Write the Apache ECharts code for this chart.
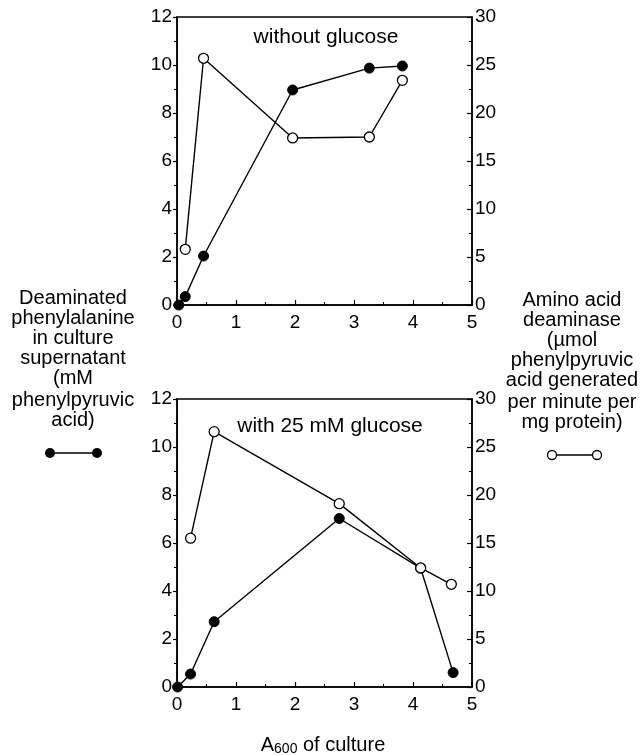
<!DOCTYPE html>
<html>
<head>
<meta charset="utf-8">
<script src="https://cdn.jsdelivr.net/npm/echarts@6/dist/echarts.min.js"></script>
<style>
html,body{margin:0;padding:0;background:#fff;}
#c{width:642px;height:755px;}
</style>
</head>
<body>
<div id="c"></div>
<script>
// ---- data ----
const xTicks = [0, 1, 2, 3, 4, 5];
const leftTicks = [0, 2, 4, 6, 8, 10, 12];
const rightTicks = [0, 5, 10, 15, 20, 25, 30];

// without glucose
const topFilledX = [0.03, 0.14, 0.45, 1.96, 3.26, 3.82];
const topFilledY = [0, 0.35, 2.04, 8.96, 9.87, 9.96];       // mM (left axis)
const topOpenX = [0.14, 0.45, 1.96, 3.26, 3.82];
const topOpenY = [5.8, 25.7, 17.4, 17.5, 23.4];              // µmol/min/mg (right axis)

// with 25 mM glucose
const botFilledX = [0.01, 0.23, 0.63, 2.75, 4.13, 4.68];
const botFilledY = [0, 0.54, 2.72, 7.02, 4.95, 0.6];
const botOpenX = [0.23, 0.63, 2.75, 4.13, 4.65];
const botOpenY = [15.5, 26.6, 19.1, 12.4, 10.7];

const titles = ['without glucose', 'with 25 mM glucose'];
const leftLabel = ['Deaminated', 'phenylalanine', 'in culture', 'supernatant', '(mM', 'phenylpyruvic', 'acid)'];
const rightLabel = ['Amino acid', 'deaminase', '(\u00b5mol', 'phenylpyruvic', 'acid generated', 'per minute per', 'mg protein)'];

const FONT = '"Liberation Sans", Arial, Helvetica, sans-serif';
const pairs = (xs, ys) => xs.map((x, i) => [x, ys[i]]);

const chart = echarts.init(document.getElementById('c'), null, {renderer: 'canvas'});

const grids = [
  {left: 177, top: 17, width: 295, height: 288},
  {left: 177, top: 399, width: 295, height: 288}
];

function xAx(i) {
  const o = {
    type: 'value', gridIndex: i, min: 0, max: 5, interval: 1,
    axisLine: {show: true, onZero: false, lineStyle: {color: '#000', width: 1.5}},
    axisTick: {show: true, inside: true, length: 5, lineStyle: {color: '#000', width: 1.2}},
    minorTick: {show: true, splitNumber: 2, length: 3, lineStyle: {color: '#000', width: 1}},
    axisLabel: {color: '#000', fontSize: 19, fontFamily: FONT, margin: 8,
      formatter: v => xTicks.includes(v) ? String(v) : ''},
    splitLine: {show: false}
  };
  return o;
}
function yLeft(i) {
  return {
    type: 'value', gridIndex: i, position: 'left', min: 0, max: 12, interval: 2,
    axisLine: {show: true, lineStyle: {color: '#000', width: 1.5}},
    axisTick: {show: true, inside: false, length: 4, lineStyle: {color: '#000', width: 1.2}},
    minorTick: {show: true, splitNumber: 2, length: 3, lineStyle: {color: '#000', width: 1}},
    axisLabel: {color: '#000', fontSize: 19, fontFamily: FONT, margin: 5,
      formatter: v => leftTicks.includes(v) ? String(v) : ''},
    splitLine: {show: false}
  };
}
function yRight(i) {
  return {
    type: 'value', gridIndex: i, position: 'right', min: 0, max: 30, interval: 5,
    axisLine: {show: true, lineStyle: {color: '#000', width: 1.5}},
    axisTick: {show: true, inside: true, length: 5, lineStyle: {color: '#000', width: 1.2}},
    minorTick: {show: true, splitNumber: 2, length: 3, lineStyle: {color: '#000', width: 1}},
    axisLabel: {color: '#000', fontSize: 19, fontFamily: FONT, margin: 3,
      formatter: v => rightTicks.includes(v) ? String(v) : ''},
    splitLine: {show: false}
  };
}

function filledSeries(xi, yi, data) {
  return {
    type: 'line', xAxisIndex: xi, yAxisIndex: yi, data: data, z: 3,
    symbol: 'circle', symbolSize: 10, showSymbol: true,
    lineStyle: {color: '#000', width: 1.4},
    itemStyle: {color: '#000', borderColor: '#000', borderWidth: 1},
    animation: false, silent: true
  };
}
function openSeries(xi, yi, data) {
  return {
    type: 'line', xAxisIndex: xi, yAxisIndex: yi, data: data, z: 4,
    symbol: 'circle', symbolSize: 10, showSymbol: true,
    lineStyle: {color: '#000', width: 1.4},
    itemStyle: {color: '#fff', borderColor: '#000', borderWidth: 1.3},
    animation: false, silent: true
  };
}

// decorative side labels and legend keys
const graphics = [];
const lh = 20;
leftLabel.forEach((t, k) => graphics.push({
  type: 'text',
  style: {text: t, x: 73, y: 298 + k * lh + (k >= 5 ? 2 : 0), align: 'center', verticalAlign: 'middle',
    fontSize: 20, fontFamily: FONT, fill: '#000'}
}));
rightLabel.forEach((t, k) => graphics.push({
  type: 'text',
  style: {text: t, x: 572, y: 300 + k * lh + (k >= 5 ? 2 : 0), align: 'center', verticalAlign: 'middle',
    fontSize: 20, fontFamily: FONT, fill: '#000'}
}));
// filled legend key
graphics.push({type: 'line', shape: {x1: 50, y1: 453, x2: 97, y2: 453}, style: {stroke: '#000', lineWidth: 1.4}});
graphics.push({type: 'circle', shape: {cx: 50, cy: 453, r: 5}, style: {fill: '#000'}});
graphics.push({type: 'circle', shape: {cx: 97, cy: 453, r: 5}, style: {fill: '#000'}});
// open legend key
graphics.push({type: 'line', shape: {x1: 552, y1: 455, x2: 597, y2: 455}, style: {stroke: '#000', lineWidth: 1.4}});
graphics.push({type: 'circle', shape: {cx: 552, cy: 455, r: 4.5}, style: {fill: '#fff', stroke: '#000', lineWidth: 1.3}, z: 10});
graphics.push({type: 'circle', shape: {cx: 597, cy: 455, r: 4.5}, style: {fill: '#fff', stroke: '#000', lineWidth: 1.3}, z: 10});
// panel titles
graphics.push({type: 'text', style: {text: titles[0], x: 326, y: 37, align: 'center', verticalAlign: 'middle',
  fontSize: 21, fontFamily: FONT, fill: '#000'}});
graphics.push({type: 'text', style: {text: titles[1], x: 330, y: 426, align: 'center', verticalAlign: 'middle',
  fontSize: 21, fontFamily: FONT, fill: '#000'}});
// x-axis title
graphics.push({type: 'text', style: {
  text: '{a|A}{s|600}{a| of culture}', x: 323, y: 745, align: 'center', verticalAlign: 'middle',
  rich: {
    a: {fontSize: 20, fontFamily: FONT, fill: '#000'},
    s: {fontSize: 14, fontFamily: FONT, fill: '#000', verticalAlign: 'bottom', padding: [9, 0, 0, 0]}
  }
}});

chart.setOption({
  animation: false,
  backgroundColor: '#fff',
  grid: grids.map(g => Object.assign({show: true, borderColor: '#000', borderWidth: 1.5, backgroundColor: 'transparent'}, g)),
  xAxis: [xAx(0), xAx(1)],
  yAxis: [yLeft(0), yRight(0), yLeft(1), yRight(1)],
  series: [
    filledSeries(0, 0, pairs(topFilledX, topFilledY)),
    openSeries(0, 1, pairs(topOpenX, topOpenY)),
    filledSeries(1, 2, pairs(botFilledX, botFilledY)),
    openSeries(1, 3, pairs(botOpenX, botOpenY))
  ],
  graphic: graphics
});
</script>
</body>
</html>
